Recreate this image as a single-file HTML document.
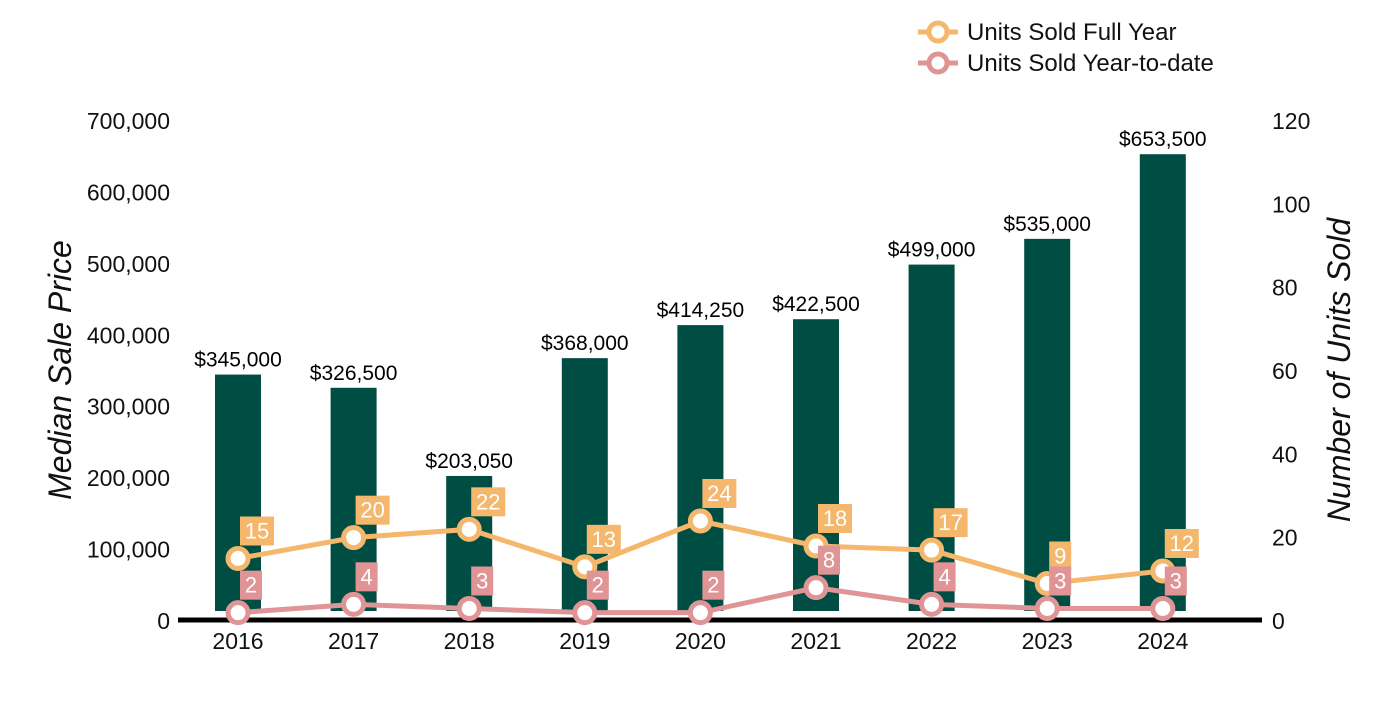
<!DOCTYPE html>
<html><head><meta charset="utf-8"><style>
body{margin:0;background:#fff;}
svg text{font-family:"Liberation Sans",Arial,sans-serif;}
</style></head><body>
<svg id="c" width="1400" height="700" xmlns="http://www.w3.org/2000/svg"></svg>
<script>
const years=['2016','2017','2018','2019','2020','2021','2022','2023','2024'];
const prices=[345000,326500,203050,368000,414250,422500,499000,535000,653500];
const fullYear=[15,20,22,13,24,18,17,9,12];
const ytd=[2,4,3,2,2,8,4,3,3];
const leftTicks=[0,100000,200000,300000,400000,500000,600000,700000];
const rightTicks=[0,20,40,60,80,100,120];
const svg=document.getElementById('c');
const NS='http://www.w3.org/2000/svg';
const y0=621,ph=500;
const yL=v=>y0-v/700000*ph, yR=v=>y0-v/120*ph;
const xC=i=>238+i*115.6;
function mk(t,a,txt){const e=document.createElementNS(NS,t);for(const k in a)e.setAttribute(k,a[k]);if(txt!==undefined)e.textContent=txt;svg.appendChild(e);return e;}
leftTicks.forEach(v=>{const e=mk('text',{x:170,y:yL(v)+8,'text-anchor':'end','font-size':23,fill:'#111'},v.toLocaleString('en-US'));

});
rightTicks.forEach(v=>{const e=mk('text',{x:1272,y:yR(v)+8,'font-size':23,fill:'#111'},v);

});
let t=mk('text',{x:0,y:0,transform:'translate(71,370) rotate(-90)','text-anchor':'middle','font-size':32,'font-style':'italic',fill:'#111'},'Median Sale Price');

t=mk('text',{x:0,y:0,transform:'translate(1350,370) rotate(-90)','text-anchor':'middle','font-size':32,'font-style':'italic',fill:'#111'},'Number of Units Sold');

prices.forEach((p,i)=>{const top=yL(p);
const b=mk('rect',{x:xC(i)-23,y:top,width:46,height:611-top,fill:'#004d43'});


const l=mk('text',{x:xC(i),y:top-8,'text-anchor':'middle','font-size':21,fill:'#000'},'$'+p.toLocaleString('en-US'));


const xl=mk('text',{x:xC(i),y:649,'text-anchor':'middle','font-size':23,fill:'#111'},years[i]);

});
const base=mk('line',{x1:178,x2:1262,y1:620,y2:620,stroke:'#000','stroke-width':5});

function series(vals,col,name){
const pts=vals.map((v,i)=>xC(i)+','+yR(v)).join(' ');
const pl=mk('polyline',{points:pts,fill:'none',stroke:col,'stroke-width':5});


vals.forEach((v,i)=>{const x=xC(i),y=yR(v);
const c=mk('circle',{cx:x,cy:y,r:10,fill:'#fff',stroke:col,'stroke-width':5});


const w=String(v).length>1?34:22;
const r=mk('rect',{x:x+2,y:y-42,width:w,height:29,fill:col});


const tx=mk('text',{x:x+2+w/2,y:y-20,'text-anchor':'middle','font-size':22,fill:'#fff'},v);

});}
series(fullYear,'#f5b76c','full-year');
series(ytd,'#e09495','ytd');
[['Units Sold Full Year','#f5b76c',32],['Units Sold Year-to-date','#e09495',63]].forEach(([n,c,y])=>{
const g=mk('line',{x1:918,x2:958,y1:y,y2:y,stroke:c,'stroke-width':5});

const ci=mk('circle',{cx:938,cy:y,r:9,fill:'#fff',stroke:c,'stroke-width':5});

const tx=mk('text',{x:967,y:y+8,'font-size':24,fill:'#111'},n);
});
</script>
</body></html>
